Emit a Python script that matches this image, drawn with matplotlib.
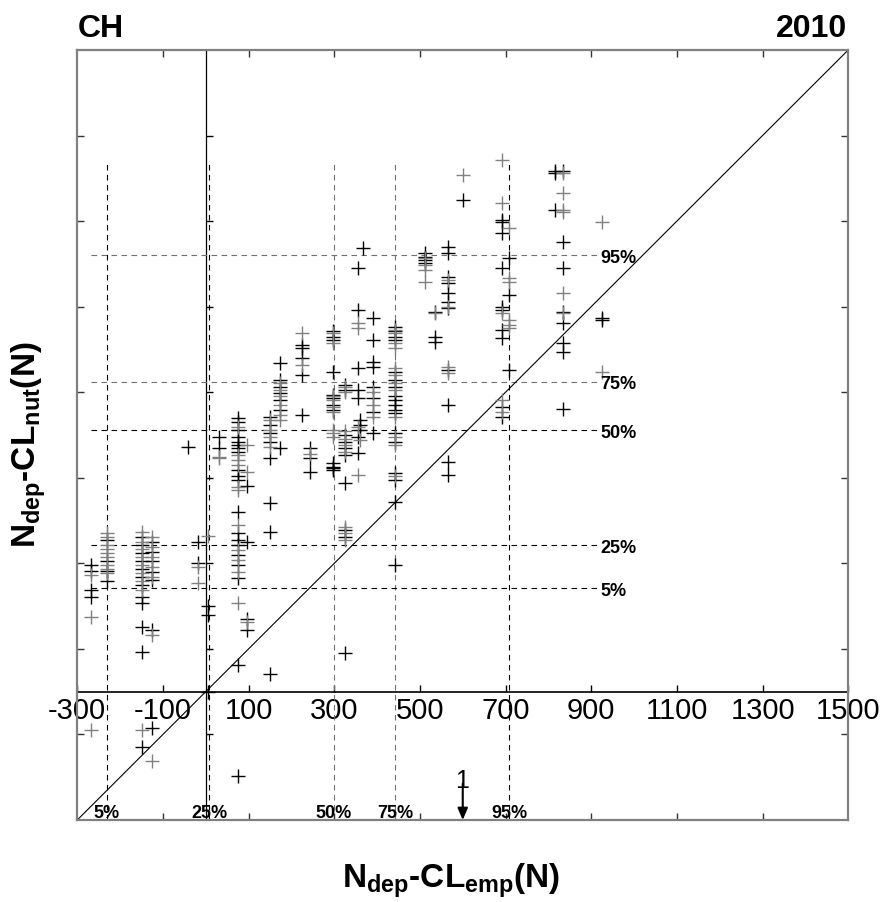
import matplotlib
matplotlib.use('Agg')
import matplotlib.pyplot as plt

plt.rcParams['font.family'] = ['Liberation Sans', 'DejaVu Sans']
plt.rcParams['mathtext.default'] = 'regular'

# точки: (x столбца, список y) - чёрные и серые крестики
black_cols = [
    (-268, [296, 282, 238, 221]),
    (-231, [355, 305, 282, 259]),
    (-150, [362, 343, 324, 305, 287, 268, 250, 221, 207, 151, 93, -129]),
    (-126, [349, 326, 305, 280, 261, 144, -85]),
    (-41, [572]),
    (-19, [351, 301]),
    (5, [200, 179, -1]),
    (32, [596, 570]),
    (76, [639, 631, 612, 596, 584, 577, 570, 561, 518, 503, 495, 421,
          370, 355, 343, 320, 296, 265, 62, -197]),
    (96, [481, 351, 171, 144]),
    (150, [643, 623, 605, 584, 546, 440, 374, 41]),
    (173, [768, 729, 713, 698, 682, 658, 570]),
    (225, [810, 803, 779, 740, 647]),
    (243, [570, 546, 514]),
    (298, [842, 830, 822, 748, 694, 686, 670, 658, 534, 526, 522, 518]),
    (325, [717, 705, 600, 584, 570, 553, 487, 378, 362, 90]),
    (356, [990, 892, 756, 705, 686, 596, 557]),
    (361, [635, 624, 612]),
    (368, [1037]),
    (390, [873, 822, 771, 760, 713, 686, 654, 605]),
    (442, [853, 842, 830, 822, 748, 729, 713, 690, 682, 670, 658, 651,
           605, 584, 510, 495, 444, 296]),
    (512, [1025, 1017, 1009, 1001]),
    (535, [888, 830, 818]),
    (566, [1040, 1025, 970, 955, 931, 912, 896, 752, 670, 538, 506]),
    (601, [1149]),
    (691, [1103, 1099, 1072, 990, 900, 892, 845, 826, 666, 643]),
    (709, [1013, 927, 752]),
    (815, [1216, 1212, 1126]),
    (835, [1216, 1052, 990, 888, 861, 814, 795, 660]),
    (924, [873, 869]),
]

grey_cols = [
    (-268, [273, 175, -90]),
    (-231, [371, 362, 343, 334, 324, 315, 296, 287, 277]),
    (-150, [374, 351, 334, 315, 296, 277, 259, 238, -90]),
    (-126, [362, 338, 315, 292, 268, 132, -162]),
    (-19, [291, 254]),
    (5, [364]),
    (32, [549, 546]),
    (76, [619, 553, 542, 530, 479, 471, 390, 331, 308, 280, 207]),
    (96, [577, 514, 164]),
    (150, [635, 612, 596, 573]),
    (173, [722, 705, 690, 670, 647, 635]),
    (225, [838, 764]),
    (243, [556]),
    (298, [838, 814, 690, 682, 666, 654, 612, 605, 596]),
    (325, [713, 701, 609, 590, 577, 561, 386, 371, 355]),
    (356, [861, 851, 619, 506]),
    (361, [588]),
    (390, [701, 670, 643]),
    (442, [845, 838, 814, 803, 756, 740, 722, 705, 643, 596, 577, 503]),
    (512, [1013, 997, 986, 958]),
    (535, [884]),
    (566, [962, 900, 760, 744]),
    (601, [1208]),
    (691, [1243, 1142, 885, 682, 654]),
    (709, [1083, 967, 958, 869, 857, 849]),
    (835, [1212, 1165, 1126, 1122, 931, 885]),
    (924, [1099, 748]),
]

# перцентили
pct_names = ['5%', '25%', '50%', '75%', '95%']
pct_x = [-231, 8, 299, 442, 708]
pct_y = [242, 343, 612, 725, 1020]
pct_xcol = ['k', 'k', '#707070', '#707070', 'k']
pct_ycol = ['k', 'k', 'k', '#707070', '#707070']

x_ticks = list(range(-300, 1501, 200))
inner_ticks = list(range(-100, 1400, 200))
arrow_x = 600

bx = [x for x, ys in black_cols for _ in ys]
by = [y for _, ys in black_cols for y in ys]
gx = [x for x, ys in grey_cols for _ in ys]
gy = [y for _, ys in grey_cols for y in ys]

fig = plt.figure(figsize=(8.87, 9.02), dpi=100)
ax = fig.add_axes([0.0871, 0.0909, 0.8692, 0.8537])
ax.set_xlim(-300, 1500)
ax.set_ylim(-300, 1500)

# диагональ и оси через ноль
ax.plot([-300, 1500], [-300, 1500], color='k', lw=0.8, zorder=2)

dash = (0, (5, 4))
for x, c in zip(pct_x, pct_xcol):
    ax.plot([x, x], [-300, 1243], ls=dash, color=c, lw=0.8, zorder=1)
for y, c in zip(pct_y, pct_ycol):
    ax.plot([-268, 916], [y, y], ls=dash, color=c, lw=0.8, zorder=1)

ax.plot(bx, by, '+', color='k', ms=10, mew=1.0, zorder=3)
ax.plot(gx, gy, '+', color='#808080', ms=10, mew=1.0, zorder=3)

for x, name in zip(pct_x, pct_names):
    ax.text(x, -295, name, ha='center', va='baseline', fontsize=13, fontweight='bold')
for y, name in zip(pct_y, pct_names):
    ax.text(922, y - 18, name, ha='left', va='baseline', fontsize=13, fontweight='bold')

# стрелка "1"
ax.annotate('', xy=(arrow_x, -300), xytext=(arrow_x, -215),
            arrowprops=dict(arrowstyle='-|>,head_width=0.3,head_length=0.7',
                            color='k', lw=1.5, shrinkA=0, shrinkB=0))
ax.text(arrow_x - 2, -226, '1', ha='center', va='baseline', fontsize=18)

# рамка
ax.set_xticks(inner_ticks)
ax.set_yticks(inner_ticks)
ax.tick_params(direction='in', top=True, right=True, labelbottom=False,
               labelleft=False, length=5, width=1, color='#333333')
for s in ax.spines.values():
    s.set_color('#808080')
    s.set_linewidth(1.6)

# ось x по y=0 и ось y по x=0
sx = ax.secondary_xaxis(1 / 6)
sx.set_xticks(x_ticks, labels=[str(v) for v in x_ticks])
sx.tick_params(direction='in', length=5, width=1, labelsize=21, pad=4)
sx.spines['bottom'].set_color('k')
sx.spines['bottom'].set_linewidth(1.2)

sy = ax.secondary_yaxis(1 / 6)
sy.set_yticks(inner_ticks, labels=[''] * len(inner_ticks))
sy.tick_params(direction='in', length=5, width=1)
sy.spines['left'].set_color('k')
sy.spines['left'].set_linewidth(0.9)

fig.text(78 / 887, 1 - 36.7 / 902, 'CH', ha='left', va='baseline',
         fontsize=23, fontweight='bold')
fig.text(847 / 887, 1 - 36.7 / 902, '2010', ha='right', va='baseline',
         fontsize=23, fontweight='bold')

fig.text(451 / 887, 1 - 888 / 902, r'N$_{dep}$-CL$_{emp}$(N)', ha='center',
         va='baseline', fontsize=24, fontweight='bold')
fig.text(29 / 887, 1 - 445 / 902, r'N$_{dep}$-CL$_{nut}$(N)', ha='center',
         va='center', rotation=90, fontsize=24, fontweight='bold')

fig.savefig('out.png', dpi=100)
